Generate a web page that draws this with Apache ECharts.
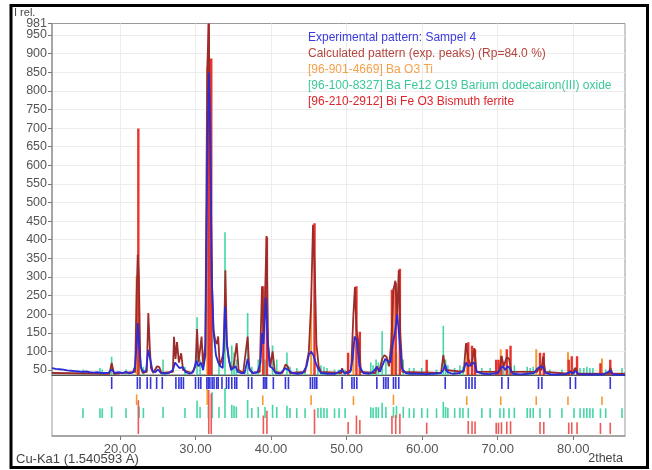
<!DOCTYPE html>
<html><head><meta charset="utf-8">
<script src="https://cdn.jsdelivr.net/npm/echarts@6/dist/echarts.min.js"></script>
<style>html,body{margin:0;padding:0;background:#fff}#c{width:652px;height:470px}</style>
</head><body><div id="c"></div>
<script>
// ---------- data ----------
const xTicks = [20, 30, 40, 50, 60, 70, 80];
const yTicks = [50,100,150,200,250,300,350,400,450,500,550,600,650,700,750,800,850,900,950];
const yTopTick = [981];

const expTheta = [11.0,11.5,12.0,12.5,13.0,13.5,14.0,14.5,15.0,15.5,16.0,16.5,17.0,17.5,18.0,18.5,18.9,19.3,19.8,20.3,20.8,21.2,21.7,22.0,22.2,22.35,22.55,22.8,23.1,23.45,23.75,24.0,24.3,24.7,25.0,25.4,26.0,26.5,27.0,27.3,27.6,27.9,28.3,28.7,29.2,29.7,30.1,30.4,30.7,31.0,31.3,31.55,31.75,31.95,32.15,32.4,32.7,33.0,33.3,33.6,33.9,34.15,34.4,34.7,35.0,35.3,35.6,36.0,36.5,36.9,37.2,37.6,38.2,38.6,38.8,39.0,39.3,39.55,39.8,40.2,40.6,41.2,41.9,42.3,42.8,43.5,44.2,44.7,45.0,45.3,45.6,45.9,46.2,46.6,47.5,48.5,49.4,49.8,50.5,50.8,51.05,51.35,51.7,52.2,53.0,53.5,54.0,54.4,54.8,55.1,55.4,55.8,56.1,56.4,56.7,57.0,57.3,57.8,58.5,59.5,60.5,61.5,62.5,62.8,63.05,63.3,64.0,65.0,65.5,65.8,66.1,66.5,66.9,67.2,68.0,69.0,70.0,70.4,70.7,71.0,71.3,71.6,72.0,73.0,74.0,74.8,75.3,75.7,76.0,76.3,77.0,78.0,79.0,79.6,80.0,80.3,80.7,82.0,83.0,84.0,84.9,85.2,86.0,86.85];
const expInt = [55,53,52,51,49,48,47,46,45,46,44,43,44,42,42,43,52,42,44,42,45,41,43,60,120,176,110,55,45,48,104,80,48,44,52,42,40,42,50,70,62,55,58,44,40,45,75,60,70,50,90,600,850,700,300,150,90,70,60,55,220,120,80,50,55,60,45,42,42,80,50,42,44,70,150,120,245,130,60,55,42,40,55,50,42,40,42,60,90,100,90,70,55,42,40,40,50,40,45,80,140,130,60,42,40,45,58,45,65,80,75,70,120,150,200,130,55,42,40,40,39,40,42,50,65,45,40,42,50,70,60,65,70,45,40,39,42,55,60,50,60,55,40,38,40,42,55,60,58,42,38,38,39,45,40,48,39,38,38,38,48,38,37,37];

const calcTheta = [11.0,18.6,18.9,19.2,22.0,22.2,22.35,22.5,22.7,23.0,23.55,23.75,23.95,24.1,24.4,24.9,25.2,25.5,27.0,27.15,27.35,27.55,27.8,28.1,28.35,29.5,30.0,30.2,30.4,30.8,31.0,31.3,31.55,31.75,31.95,32.15,32.35,32.6,32.8,33.0,33.2,33.5,33.75,33.95,34.15,34.4,34.6,35.0,35.45,35.7,36.3,36.9,37.1,37.5,38.5,38.8,39.0,39.2,39.4,39.6,39.9,40.2,40.5,41.5,41.9,42.2,42.5,44.5,45.0,45.3,45.55,45.8,46.0,46.3,46.6,49.3,49.4,49.6,50.6,50.9,51.1,51.3,51.6,51.9,53.8,54.0,54.3,54.7,55.0,55.3,55.6,55.9,56.2,56.45,56.7,56.9,57.1,57.4,62.5,62.8,63.1,65.5,65.8,66.1,66.5,66.9,67.2,70.2,70.5,70.8,71.2,71.5,71.8,75.2,75.5,75.8,76.0,76.3,79.4,79.6,79.9,80.3,80.6,84.7,84.9,85.2,86.85];
const calcInt = [42,40,69,40,45,250,360,300,60,42,45,203,110,55,42,60,58,42,45,139,80,125,70,95,50,42,60,160,70,140,60,120,860,981,981,300,160,130,120,140,60,80,100,318,120,80,60,55,122,50,42,140,55,42,45,275,150,245,410,120,60,100,45,42,65,60,42,45,100,230,440,310,120,60,45,42,55,42,50,200,273,157,120,45,42,60,45,80,90,85,60,120,265,290,200,318,150,45,42,90,50,45,122,80,60,109,45,45,88,60,85,80,45,45,56,50,86,45,40,48,40,56,40,40,56,40,40];

const expPeaks = [18.9,22.3,22.65,23.6,24.05,24.85,25.6,27.4,27.8,28.1,28.4,30.0,30.4,30.7,31.5,31.7,31.9,32.2,32.45,32.8,33.0,33.5,34.1,34.4,34.8,35.2,35.45,37.0,37.45,39.0,39.2,39.4,40.3,41.9,42.3,45.2,45.5,45.8,46.05,49.4,50.7,51.0,51.35,54.0,54.9,55.2,55.5,56.2,56.5,56.9,63.05,65.8,66.2,66.6,67.0,70.55,71.4,75.4,75.85,79.6,80.3,84.9];

// [96-901-4669] Ba O3 Ti
const btoPos = [22.2,31.55,38.9,45.3,50.9,56.2,65.9,70.4,75.1,79.3,83.8];
const btoInt = [32,100,20,23,10,28,10,8,8,7,5];
// [96-100-8327] Ba Fe12 O19
const bafePos = [15.1,17.35,17.65,18.9,20.8,22.55,23.1,25.7,28.6,30.2,30.6,31.7,32.2,33.1,33.9,34.8,35.1,35.4,36.9,37.45,38.3,39.2,40.2,40.75,42.1,42.5,43.4,44.5,46.2,46.6,47.0,47.4,48.4,49.0,49.8,53.2,53.5,53.9,54.2,54.7,55.2,56.2,56.6,57.5,58.3,58.9,59.95,60.7,61.9,62.8,63.1,63.4,64.3,65.0,65.4,66.1,67.9,69.0,70.3,70.8,71.5,72.2,73.9,74.3,74.7,75.6,76.9,78.5,80.1,80.9,81.4,81.8,82.2,82.6,83.6,84.3,86.45];
const bafeInt = [3,4,3,12,3,12,5,10,5,40,10,15,80,10,100,20,15,10,43,5,10,10,20,10,15,5,4,4,5,6,5,4,3,3,3,8,6,10,8,30,10,10,15,10,4,4,4,3,3,34,10,6,4,6,5,4,4,4,3,4,4,6,5,4,5,3,3,3,4,4,4,5,4,4,3,3,4];
// [96-210-2912] Bi Fe O3
const bfoPos = [22.43,31.75,32.08,38.98,39.45,45.75,50.2,51.3,51.75,56.0,56.5,57.05,60.6,66.1,66.6,67.0,69.8,70.1,70.5,71.2,71.7,75.6,76.1,79.4,79.8,80.5,83.6,84.9];
const bfoInt = [70,100,90,25,39,43,6,25,12,24,26,30,4,9,8,7,4,4,5,7,8,6,6,4,5,5,3,4];

// display scale of each phase's sticks in the upper panel (counts per 100 % rel. intensity)
const btoScale = 823, bafeScale = 380, bfoScale = 941;
const stickBase = 40;

// ---------- chart ----------
const Y_MIN = 36.6, Y_MAX = 981, X_MIN = 11, X_MAX = 86.85;
const NAMES = {
  exp: 'Experimental pattern: Sampel 4',
  calc: 'Calculated pattern (exp. peaks) (Rp=84.0 %)',
  bto: '[96-901-4669] Ba O3 Ti',
  bafe: '[96-100-8327] Ba Fe12 O19 Barium dodecairon(III) oxide',
  bfo: '[96-210-2912] Bi Fe O3 Bismuth ferrite'
};
const COL = { exp:'#2c2cd6', calc:'#9b2c2a', bto:'#f59a32', bafe:'#45d6a4', bfo:'#e8322c' };
const FONT = "'Liberation Sans', Arial, sans-serif";

function stickSeries(name, pos, inten, scale, color, width, z) {
  return {
    type: 'custom', name, xAxisIndex: 0, yAxisIndex: 0, z, silent: true, clip: true,
    encode: { x: 0, y: 1 },
    data: pos.map((p, i) => [p, stickBase + scale * inten[i] / 100]),
    renderItem(params, api) {
      const t = api.coord([api.value(0), api.value(1)]);
      const b = api.coord([api.value(0), Y_MIN]);
      return { type: 'line', shape: { x1: t[0], y1: b[1], x2: t[0], y2: t[1] },
               style: { stroke: color, lineWidth: width } };
    }
  };
}
function rowSeries(name, pos, inten, base, minLen, maxLen, color, z) {
  return {
    type: 'custom', name, xAxisIndex: 1, yAxisIndex: 1, z, silent: true,
    encode: { x: 0, y: 1 },
    data: pos.map((p, i) => {
      const I = inten ? inten[i] : 100;
      return [p, base, base + minLen + (maxLen - minLen) * I / 100];
    }),
    renderItem(params, api) {
      const a = api.coord([api.value(0), api.value(1)]);
      const b = api.coord([api.value(0), api.value(2)]);
      return { type: 'line', shape: { x1: a[0], y1: a[1], x2: b[0], y2: b[1] },
               style: { stroke: color, lineWidth: 1.6 } };
    }
  };
}

const yLabelStyle = { color: '#555', fontSize: 12.5, margin: 5, fontFamily: FONT };

const chart = echarts.init(document.getElementById('c'), null, { renderer: 'canvas' });
chart.setOption({
  animation: false,
  backgroundColor: '#fff',
  textStyle: { fontFamily: FONT },
  grid: [
    { left: 52, top: 23.5, width: 573, height: 351.5, show: true, borderColor: '#9a9a9a', borderWidth: 1 },
    { left: 52, top: 375, width: 573, height: 61, show: true, borderColor: '#9a9a9a', borderWidth: 1 }
  ],
  xAxis: [
    { type: 'value', gridIndex: 0, min: X_MIN, max: X_MAX,
      axisLine: { show: true, lineStyle: { color: '#555', width: 1 } },
      axisTick: { show: false, customValues: xTicks },
      axisLabel: { show: false, customValues: xTicks },
      splitLine: { show: true, lineStyle: { color: '#ececec', width: 1 } } },
    { type: 'value', gridIndex: 1, min: X_MIN, max: X_MAX,
      axisLine: { show: true, lineStyle: { color: '#9a9a9a', width: 1.5 } },
      axisTick: { show: true, length: 4, customValues: xTicks, lineStyle: { color: '#777' } },
      axisLabel: { customValues: xTicks, formatter: v => v.toFixed(2), color: '#555',
                   fontSize: 13, margin: 7, fontFamily: FONT },
      splitLine: { show: false } }
  ],
  yAxis: [
    { type: 'value', gridIndex: 0, min: Y_MIN, max: Y_MAX,
      axisLine: { show: true, lineStyle: { color: '#9a9a9a', width: 1.5 } },
      axisTick: { show: true, length: 4, customValues: yTicks, lineStyle: { color: '#777' } },
      axisLabel: Object.assign({ customValues: yTicks, hideOverlap: false }, yLabelStyle),
      splitLine: { show: true, lineStyle: { color: '#ececec', width: 1 } } },
    { type: 'value', gridIndex: 1, min: 0, max: 61, show: false },
    { type: 'value', gridIndex: 0, min: Y_MIN, max: Y_MAX, position: 'left',
      axisLine: { show: false },
      axisTick: { show: true, length: 4, customValues: yTopTick, lineStyle: { color: '#777' } },
      axisLabel: Object.assign({ customValues: yTopTick, showMaxLabel: true }, yLabelStyle),
      splitLine: { show: false } }
  ],
  legend: {
    orient: 'vertical', left: 298, top: 27, itemWidth: 0, itemHeight: 12, itemGap: 4,
    selectedMode: false, icon: 'none',
    textStyle: { fontSize: 12, fontFamily: FONT },
    data: [
      { name: NAMES.exp, icon: 'none', textStyle: { color: '#3b3bde' } },
      { name: NAMES.calc, icon: 'none', textStyle: { color: '#b4443c' } },
      { name: NAMES.bto, icon: 'none', textStyle: { color: '#f5a04a' } },
      { name: NAMES.bafe, icon: 'none', textStyle: { color: '#3cc99a' } },
      { name: NAMES.bfo, icon: 'none', textStyle: { color: '#e0242c' } }
    ]
  },
  graphic: [
    { type: 'rect', silent: true, z: 100, shape: { x: 11, y: 5.5, width: 636.5, height: 462 },
      style: { fill: 'none', stroke: '#000', lineWidth: 3 } },
    { type: 'text', silent: true, left: 14, top: 7, style: { text: 'I rel.', font: '11px ' + FONT, fill: '#444' } },
    { type: 'text', silent: true, left: 16, top: 453, style: { text: 'Cu-Ka1 (1.540593 A)', font: '13px ' + FONT, fill: '#444' } },
    { type: 'text', silent: true, right: 29, top: 452, style: { text: '2theta', font: '12.5px ' + FONT, fill: '#444' } }
  ],
  series: [
    stickSeries(NAMES.bafe, bafePos, bafeInt, bafeScale, COL.bafe, 1.6, 2),
    stickSeries(NAMES.bto, btoPos, btoInt, btoScale, COL.bto, 2, 3),
    stickSeries(NAMES.bfo, bfoPos, bfoInt, bfoScale, COL.bfo, 2.4, 4),
    { type: 'line', name: NAMES.calc, xAxisIndex: 0, yAxisIndex: 0, z: 5, silent: true,
      showSymbol: false, symbol: 'none', clip: true,
      lineStyle: { color: COL.calc, width: 1.8 }, itemStyle: { color: COL.calc },
      data: calcTheta.map((t, i) => [t, calcInt[i]]) },
    { type: 'line', name: NAMES.exp, xAxisIndex: 0, yAxisIndex: 0, z: 6, silent: true,
      showSymbol: false, symbol: 'none', clip: true,
      lineStyle: { color: COL.exp, width: 1.8 }, itemStyle: { color: COL.exp },
      data: expTheta.map((t, i) => [t, expInt[i]]) },
    rowSeries(NAMES.exp, expPeaks, null, 47, 12, 12, '#3636d8', 6),
    rowSeries(NAMES.bto, btoPos, btoInt, 31, 8, 16, COL.bto, 4),
    rowSeries(NAMES.bafe, bafePos, bafeInt, 18, 9, 30, COL.bafe, 3),
    rowSeries(NAMES.bfo, bfoPos, bfoInt, 2, 10, 44, '#ee5a55', 5)
  ]
});
</script></body></html>
